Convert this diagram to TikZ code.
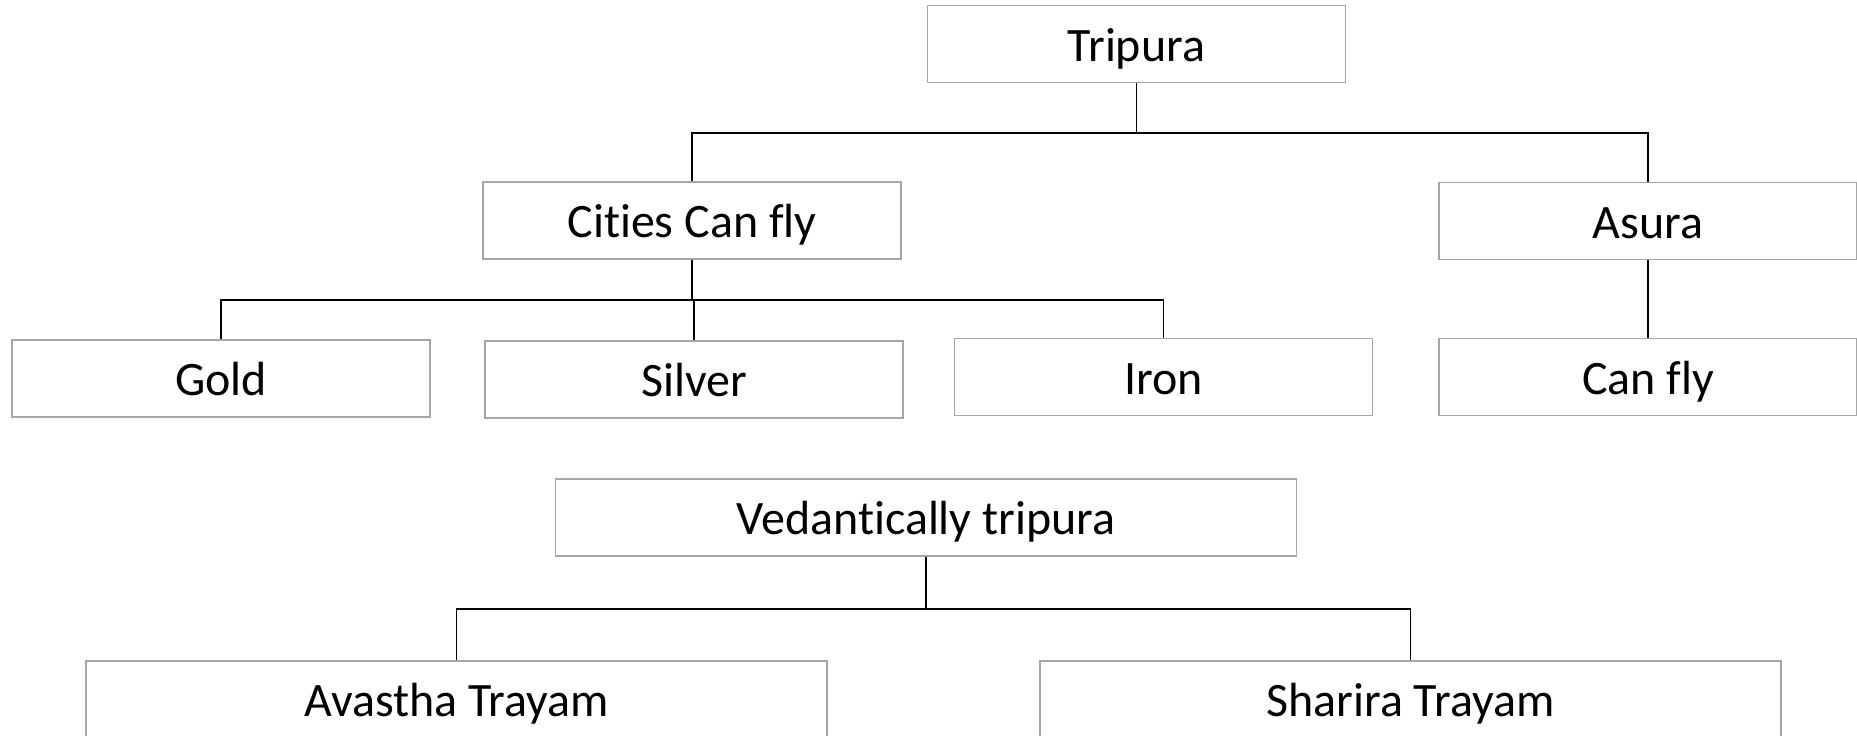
\documentclass[tikz,border=0pt]{standalone}
\usepackage{fontspec}
\setmainfont{Carlito}[Ligatures=NoCommon]
\tikzset{
    common/.style={
        rectangle,
        draw=black!35, line width=0.85pt,
        minimum width=8.36cm,
        minimum height=1.54cm,
        text height=0.7cm, text depth=0cm,
        inner sep=0pt,
        text centered
    },
    widebox/.style={common, minimum width=14.82cm},
    line/.style={draw, line width=0.85pt},
    font={\fontsize{27.3pt}{33}\selectfont},
}
\begin{document}
\begin{tikzpicture}
[
    x=0.02cm, y=-0.02cm,
]
\fill[white] (0,0) rectangle (1857,736);
\useasboundingbox (0,0) rectangle (1857,736);
% top tree
\node[common] (tripura) at (1136.5,44) {Tripura};
\node[common] (cities) at (692,220.5) {Cities Can fly};
\node[common] (asura) at (1648,221) {Asura};
\node[common] (gold) at (221,378.5) {Gold};
\node[common] (silver) at (694,379.5) {Silver};
\node[common] (iron) at (1163.5,377) {Iron};
\node[common] (canfly) at (1648,377) {Can fly};
% bottom tree
\node[widebox] (vedanta) at (926,517.5) {Vedantically tripura};
\node[widebox] (avastha) at (456.5,699.5) {Avastha Trayam};
\node[widebox] (sharira) at (1410.5,699.5) {Sharira Trayam};
\coordinate (fork1) at (1136.5,133);
\coordinate (fork2) at (692,300);
\coordinate (fork3) at (926,609);
\draw[line] (tripura.south) -- (fork1) -| (cities.north);
\draw[line] (fork1) -| (asura.north);
\draw[line] (cities.south) -- (fork2) -| (gold.north);
\draw[line] (fork2) -| (silver.north);
\draw[line] (fork2) -| (iron.north);
\draw[line] (asura.south) -- (canfly.north);
\draw[line] (vedanta.south) -- (fork3) -| (avastha.north);
\draw[line] (fork3) -| (sharira.north);
\end{tikzpicture}
\end{document}
